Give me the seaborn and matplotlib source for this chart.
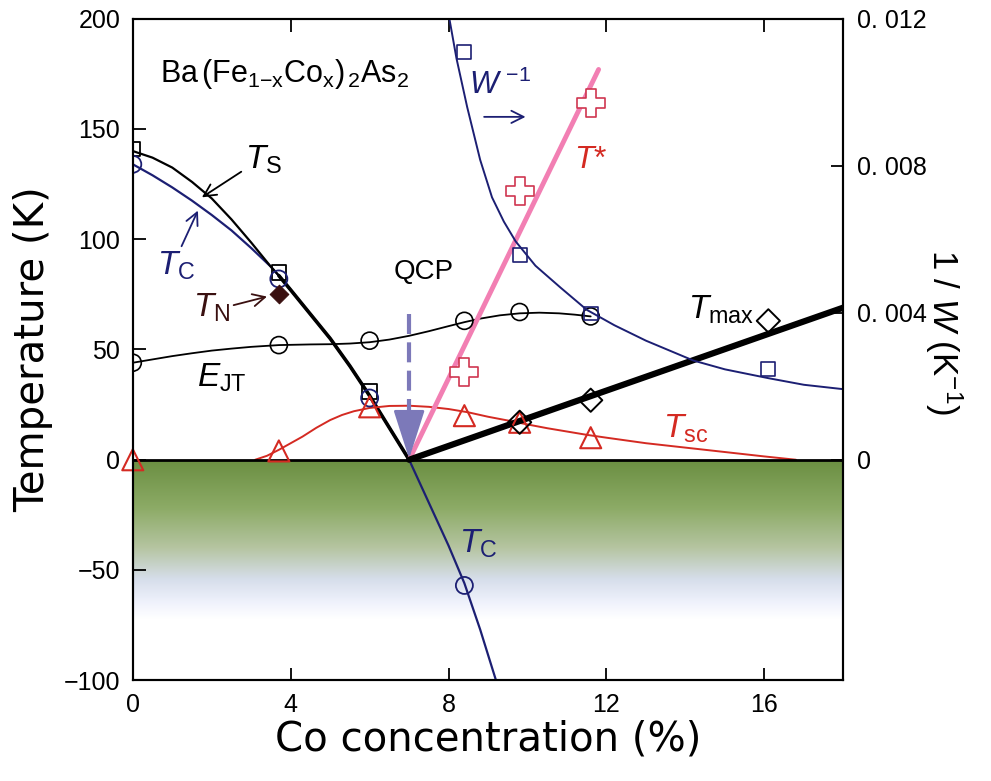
import numpy as np
import matplotlib
matplotlib.use("Agg")
import matplotlib.pyplot as plt
from matplotlib.colors import LinearSegmentedColormap
import seaborn as sns

# ---- values ----
# T_S (structural) curve and squares
ts_curve_x = [0, 0.5, 1, 1.5, 2, 2.5, 3, 3.5, 3.7, 4.0, 4.5, 5.0, 5.5, 6.0, 6.5, 7.0]
ts_curve_y = [140, 137, 132.5, 126, 118.5, 109, 98.5, 87.5, 83.5, 77, 66, 55, 42.5,
              29, 14.5, 0]
ts_pts_x = [0, 3.7, 6.0]
ts_pts_y = [141, 85, 31]

# T_C (elastic softening) curve and circles
tc_curve_x = [0, 0.5, 1, 1.5, 2, 2.5, 3, 3.5, 3.7, 4.0, 4.5, 5.0, 5.5, 6.0, 6.5,
              7.0, 7.5, 8.0, 8.4, 8.8, 9.2]
tc_curve_y = [134, 129, 123.5, 117.5, 111, 104, 96, 87.5, 83.5, 77, 66, 55, 42.5,
              29, 14.5, 0, -19.5, -39, -56, -77, -100]
tc_pts_x = [0, 3.7, 6.0, 8.4]
tc_pts_y = [134, 82, 28, -57]

# T_N
tn_x = [3.7]
tn_y = [75]

# E_JT curve and circles
ejt_curve_x = [0, 0.5, 1, 1.5, 2, 2.5, 3, 3.7, 4.5, 5.0, 5.5, 6.0, 6.5, 7.0, 7.5,
               8.0, 8.4, 8.8, 9.3, 9.8, 10.3, 10.8, 11.2, 11.6]
ejt_curve_y = [44, 45.5, 47, 48.3, 49.5, 50.4, 51.2, 52, 52.3, 52.4, 52.7, 53.3,
               54.5, 56.2, 58.3, 60.6, 62.4, 64, 65.5, 66.4, 66.7, 66.4, 65.8, 65]
ejt_pts_x = [0, 3.7, 6.0, 8.4, 9.8, 11.6]
ejt_pts_y = [44, 52, 54, 63, 67, 65]

# T_sc curve and triangles
tsc_curve_x = [3.1, 3.4, 3.7, 4.0, 4.3, 4.65, 5.0, 5.3, 5.6, 6.0, 6.5, 7.0, 7.5,
               8.0, 8.5, 9.0, 9.5, 10.0, 10.5, 11.0, 11.5, 12.0, 13.0, 14.0, 15.0,
               16.0, 16.8]
tsc_curve_y = [0, 1.8, 4.5, 7.5, 10.5, 14.5, 18, 20.3, 22, 23.5, 24.4, 24.5, 24,
               23, 21.5, 19.5, 17.8, 16, 14.3, 12.8, 11.3, 10, 7.5, 5.5, 3.5,
               1.5, 0]
tsc_pts_x = [0, 3.7, 6.0, 8.4, 9.8, 11.6]
tsc_pts_y = [0, 4, 24, 20, 17, 10]

# T* line and crosses
tstar_line_x = [7.0, 11.8]
tstar_line_y = [0, 177]
tstar_pts_x = [8.4, 9.8, 11.6]
tstar_pts_y = [40, 122, 162]

# T_max line and diamonds
tmax_line_x = [7.0, 18.0]
tmax_line_y = [0, 69]
tmax_pts_x = [9.8, 11.6, 16.1]
tmax_pts_y = [17, 27, 63]

# 1/W (right axis, K^-1)
w_curve_x = [8.02, 8.2, 8.47, 8.8, 9.1, 9.4, 9.7, 10.2, 10.84, 11.5, 12.2, 13.0,
             14.2, 15.0, 16.1, 17.0, 18.0]
w_curve_y = [0.0120, 0.01092, 0.0096, 0.00816, 0.00714, 0.00648, 0.00594,
             0.00528, 0.00468, 0.00408, 0.00366, 0.00324, 0.0027, 0.00246,
             0.00222, 0.00204, 0.00192]
w_pts_x = [8.4, 9.8, 11.6, 16.1]
w_pts_y = [0.0111, 0.00558, 0.00398, 0.00246]

qcp_x = 7.0

xticks = [0, 4, 8, 12, 16]
yticks = [200, 150, 100, 50, 0, -50, -100]
wticks = [0, 0.004, 0.008, 0.012]
wtick_labels = ["0", "0. 004", "0. 008", "0. 012"]

NAVY = "#1c1f73"
RED = "#d42a22"
PINK = "#f27fb3"
CROSS = "#cf3650"
TN_COL = "#3a1010"
QCP_COL = "#7c79b9"

sns.set_style("ticks")
plt.rcParams['font.family'] = ['Liberation Sans', 'DejaVu Sans']
plt.rcParams['mathtext.fontset'] = 'custom'
plt.rcParams['mathtext.rm'] = 'Liberation Sans'
plt.rcParams['mathtext.it'] = 'Liberation Sans:italic'
plt.rcParams['mathtext.bf'] = 'Liberation Sans:bold'
plt.rcParams.update({'text.color': 'black', 'axes.labelcolor': 'black',
                     'xtick.color': 'black', 'ytick.color': 'black',
                     'axes.edgecolor': 'black'})

fig = plt.figure(figsize=(9.91, 7.81), dpi=100)
ax = fig.add_axes([0.134, 0.129, 0.717, 0.847])

# green shaded region below 0 K
cmap = LinearSegmentedColormap.from_list(
    "shade",
    [(0.0, (0.42, 0.56, 0.26)), (0.3, (0.55, 0.67, 0.40)),
     (0.55, (0.71, 0.77, 0.63)), (0.75, (0.84, 0.87, 0.92)),
     (0.9, (0.94, 0.95, 0.99)), (1.0, (1, 1, 1))])
grad = np.linspace(0, 1, 256).reshape(-1, 1)
ax.imshow(grad, extent=[0, 18, -72, 0], aspect='auto', cmap=cmap,
          origin='upper', zorder=0)

# curves
sns.lineplot(x=tc_curve_x, y=tc_curve_y, ax=ax, color=NAVY, lw=1.6,
             sort=False, estimator=None, zorder=3)
sns.lineplot(x=ts_curve_x, y=ts_curve_y, ax=ax, color="black", lw=1.6,
             sort=False, estimator=None, zorder=3)
sns.lineplot(x=ts_curve_x[8:], y=ts_curve_y[8:], ax=ax, color="black", lw=2.6,
             sort=False, estimator=None, zorder=3)
sns.lineplot(x=ejt_curve_x, y=ejt_curve_y, ax=ax, color="black", lw=1.3,
             sort=False, estimator=None, zorder=3)
sns.lineplot(x=tsc_curve_x, y=tsc_curve_y, ax=ax, color=RED, lw=1.4,
             sort=False, estimator=None, zorder=3)
sns.lineplot(x=tstar_line_x, y=tstar_line_y, ax=ax, color=PINK, lw=3.5,
             sort=False, estimator=None, zorder=3)
sns.lineplot(x=tmax_line_x, y=tmax_line_y, ax=ax, color="black", lw=4.5,
             sort=False, estimator=None, zorder=3)
ax.axhline(0, color="black", lw=2, zorder=4)

# markers
sns.scatterplot(x=ts_pts_x, y=ts_pts_y, ax=ax, marker='s', s=110,
                facecolors='none', edgecolor='black', linewidth=1.3, zorder=5)
sns.scatterplot(x=tc_pts_x, y=tc_pts_y, ax=ax, marker='o', s=150,
                facecolors='none', edgecolor=NAVY, linewidth=1.3, zorder=5)
sns.scatterplot(x=ejt_pts_x, y=ejt_pts_y, ax=ax, marker='o', s=150,
                facecolors='none', edgecolor='black', linewidth=1.2, zorder=5)
sns.scatterplot(x=tn_x, y=tn_y, ax=ax, marker='D', s=90,
                color=TN_COL, edgecolor=TN_COL, zorder=5)
sns.scatterplot(x=tsc_pts_x, y=tsc_pts_y, ax=ax, marker='^', s=230,
                facecolors='none', edgecolor=RED, linewidth=1.5, zorder=5,
                clip_on=False)
sns.scatterplot(x=tstar_pts_x, y=tstar_pts_y, ax=ax, marker='P', s=380,
                facecolors='white', edgecolor=CROSS, linewidth=1.2, zorder=5)
sns.scatterplot(x=tmax_pts_x, y=tmax_pts_y, ax=ax, marker='D', s=140,
                facecolors='none', edgecolor='black', linewidth=1.4, zorder=5)

# QCP dashed arrow
ax.plot([qcp_x, qcp_x], [66, 19], ls=(0, (4.8, 2.0)), color=QCP_COL,
        lw=3, zorder=4)
ax.annotate("", xy=(qcp_x, 0.5), xytext=(qcp_x, 20),
            arrowprops=dict(arrowstyle="-|>,head_length=1.4,head_width=0.45",
                            color=QCP_COL, lw=2, mutation_scale=22,
                            shrinkA=0, shrinkB=0), zorder=4)

ax.set_xlim(0, 18)
ax.set_ylim(-100, 200)
ax.set_xticks(xticks)
ax.set_yticks(yticks)
ax.set_yticklabels([str(v).replace("-", "\u2212") for v in yticks])
ax.tick_params(axis='both', direction='in', length=9, width=1.3,
               labelsize=18, top=True, pad=9)
for sp in ax.spines.values():
    sp.set_linewidth(1.5)
ax.set_xlabel("Co concentration (%)", fontsize=29, labelpad=2,
              family='DejaVu Sans')
ax.set_ylabel("Temperature (K)", fontsize=29, labelpad=8,
              family='DejaVu Sans')

# right axis: 1/W
ax2 = ax.twinx()
sns.lineplot(x=w_curve_x, y=w_curve_y, ax=ax2, color=NAVY, lw=1.4,
             sort=False, estimator=None)
sns.scatterplot(x=w_pts_x, y=w_pts_y, ax=ax2, marker='s', s=100,
                facecolors='none', edgecolor=NAVY, linewidth=1.2, zorder=5)
ax2.set_ylim(-0.006, 0.012)
ax2.set_yticks(wticks)
ax2.set_yticklabels(wtick_labels)
ax2.tick_params(axis='y', direction='in', length=9, width=1.3,
                labelsize=18, pad=10)
for sp in ax2.spines.values():
    sp.set_linewidth(1.5)
ax2.set_ylabel("1 / $W$ (K$^{-1}$)", fontsize=25, rotation=270)
ax2.yaxis.set_label_coords(1.17, 0.526)

# annotations
ax.text(0.69, 175, r"Ba$\,$(Fe$_{1\mathrm{-x}}$Co$_\mathrm{x}$)$_{\,2}$As$_2$",
        fontsize=22, ha='left', va='center')
arr = dict(arrowstyle="->", lw=1.3, mutation_scale=22, shrinkA=0, shrinkB=0)
ax.annotate(r"$T_\mathrm{S}$", xy=(1.75, 119), xytext=(3.3, 136),
            fontsize=24, ha='center', va='center',
            arrowprops=dict(arr, color="black", relpos=(0, 0.2)))
ax.annotate(r"$T_\mathrm{C}$", xy=(1.65, 113), xytext=(1.1, 88), color=NAVY,
            fontsize=24, ha='center', va='center',
            arrowprops=dict(arr, color=NAVY, relpos=(0.6, 1)))
ax.annotate(r"$T_\mathrm{N}$", xy=(3.4, 74), xytext=(2.0, 69), color=TN_COL,
            fontsize=24, ha='center', va='center',
            arrowprops=dict(arr, color=TN_COL, relpos=(1, 0.55)))
ax.text(2.26, 37, r"$E_\mathrm{JT}$", fontsize=24, ha='center', va='center')
ax.text(7.36, 85, "QCP", fontsize=20, ha='center', va='center')
ax.text(9.3, 170, r"$W^{\ \mathrm{-1}}$", color=NAVY, fontsize=22,
        ha='center', va='center')
ax.annotate("", xy=(9.95, 155.5), xytext=(8.9, 155.5),
            arrowprops=dict(arr, color=NAVY))
ax.text(11.6, 136, r"$T$*", color=RED, fontsize=23, ha='center', va='center')
ax.text(14.9, 68, r"$T_\mathrm{max}$", fontsize=24, ha='center', va='center')
ax.text(14.0, 14, r"$T_\mathrm{sc}$", color=RED, fontsize=24, ha='center',
        va='center')
ax.text(8.76, -38, r"$T_\mathrm{C}$", color=NAVY, fontsize=24, ha='center',
        va='center')

fig.savefig("out.png", dpi=100)
